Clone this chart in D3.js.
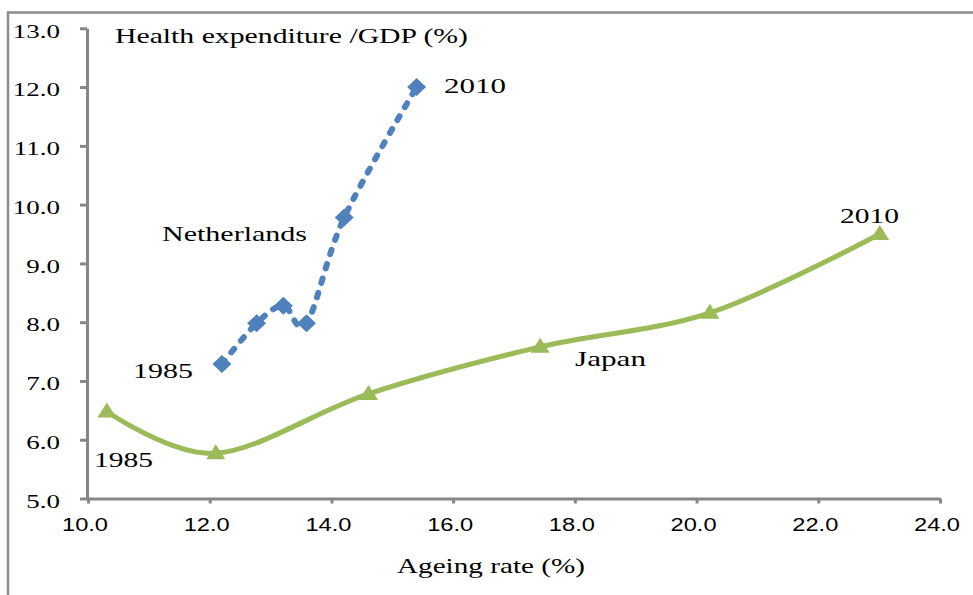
<!DOCTYPE html>
<html><head><meta charset="utf-8">
<script src="https://cdn.jsdelivr.net/npm/d3@7"></script>
<style>body{margin:0;background:#fff}</style>
</head><body><svg id="c" width="973" height="595"></svg>
<script>
const years = ["1985","1990","1995","2000","2005","2010"];
const nlAgeing = [12.20, 12.77, 13.21, 13.59, 14.21, 15.40];
const nlHealth = [7.29, 7.98, 8.28, 7.98, 9.78, 12.00];
const jpAgeing = [10.31, 12.10, 14.61, 17.43, 20.22, 23.01];
const jpHealth = [6.48, 5.77, 6.78, 7.58, 8.16, 9.50];
const xTickValues = [10, 12, 14, 16, 18, 20, 22, 24];
const yTickValues = [5, 6, 7, 8, 9, 10, 11, 12, 13];
const yAxisTitle = "Health expenditure /GDP (%)";
const xAxisTitle = "Ageing rate (%)";
const seriesNames = ["Netherlands", "Japan"];

const svg = d3.select("#c");
const axisColor = "#868686";
const serif = "'Liberation Serif','Times New Roman',serif";
const sans = "'Liberation Sans',Arial,sans-serif";

// outer frame (only left and top visible)
svg.append("path").attr("d", "M8,595 L8,12.5 L973,12.5")
  .attr("fill", "none").attr("stroke", "#8c8c8c").attr("stroke-width", 2.5);

const x = d3.scaleLinear().domain([10, 24]).range([88, 940]);
const y = d3.scaleLinear().domain([5, 13]).range([498.5, 28.3]);

function fitText(sel, width) {
  sel.attr("textLength", width).attr("lengthAdjust", "spacingAndGlyphs");
}

// X axis
const gx = svg.append("g").attr("transform", `translate(0,${y(5)})`)
  .call(d3.axisBottom(x).tickValues(xTickValues).tickFormat(d3.format(".1f")).tickSize(5).tickSizeOuter(0));
gx.select(".domain").attr("stroke", axisColor).attr("stroke-width", 3);
gx.selectAll(".tick line").attr("stroke", axisColor).attr("stroke-width", 3);
gx.selectAll(".tick text").attr("font-family", sans).attr("font-size", 18).attr("fill", "#000")
  .attr("text-anchor", "start").attr("dy", null).attr("y", 32).attr("x", -26.5)
  .call(s => fitText(s, 46));

// Y axis
const gy = svg.append("g").attr("transform", `translate(${x(10) - 1},0)`)
  .call(d3.axisLeft(y).tickValues(yTickValues).tickFormat(d3.format(".1f")).tickSize(7).tickSizeOuter(0));
gy.select(".domain").attr("stroke", axisColor).attr("stroke-width", 3);
gy.selectAll(".tick line").attr("stroke", axisColor).attr("stroke-width", 3);
gy.selectAll(".tick text").attr("font-family", serif).attr("font-size", 19).attr("fill", "#000")
  .attr("dy", null).attr("y", 8.7).attr("text-anchor", "start")
  .each(function () {
    const t = d3.select(this);
    const w = this.getComputedTextLength() * 1.42;
    t.attr("x", -27 - w).call(s => fitText(s, w));
  });

// lines
const nl = nlAgeing.map((a, i) => [a, nlHealth[i]]);
const jp = jpAgeing.map((a, i) => [a, jpHealth[i]]);
const line = d3.line().x(d => x(d[0])).y(d => y(d[1])).curve(d3.curveCardinal.tension(0));

svg.append("path").datum(jp).attr("d", line).attr("fill", "none")
  .attr("stroke", "#9BBB59").attr("stroke-width", 5);
svg.selectAll(".tri").data(jp).enter().append("path")
  .attr("transform", d => `translate(${x(d[0])},${y(d[1])})`)
  .attr("d", "M0,-9 L9.5,6 L-9.5,6 Z").attr("fill", "#9BBB59");

svg.append("path").datum(nl).attr("d", line).attr("fill", "none")
  .attr("stroke", "#4F81BD").attr("stroke-width", 6)
  .attr("stroke-dasharray", "4.5,10.5").attr("stroke-linecap", "round");
svg.selectAll(".dia").data(nl).enter().append("path")
  .attr("transform", d => `translate(${x(d[0])},${y(d[1])})`)
  .attr("d", "M0,-9 L9.5,0 L0,9 L-9.5,0 Z").attr("fill", "#4F81BD");

// texts
function label(txt, left, baseline, width, size) {
  svg.append("text").attr("x", left).attr("y", baseline)
    .attr("font-family", serif).attr("font-size", size || 22).attr("fill", "#000")
    .text(txt).call(s => fitText(s, width));
}
label(yAxisTitle, 115, 43, 353);
label(xAxisTitle, 397, 573, 188);
label(seriesNames[0], 162, 241, 145);
label(seriesNames[1], 575, 366, 71);
label(years[5], 444, 93, 62);
label(years[0], 133, 378, 60);
label(years[0], 94, 467, 59);
label(years[5], 840, 223, 59);
</script>
</body></html>
